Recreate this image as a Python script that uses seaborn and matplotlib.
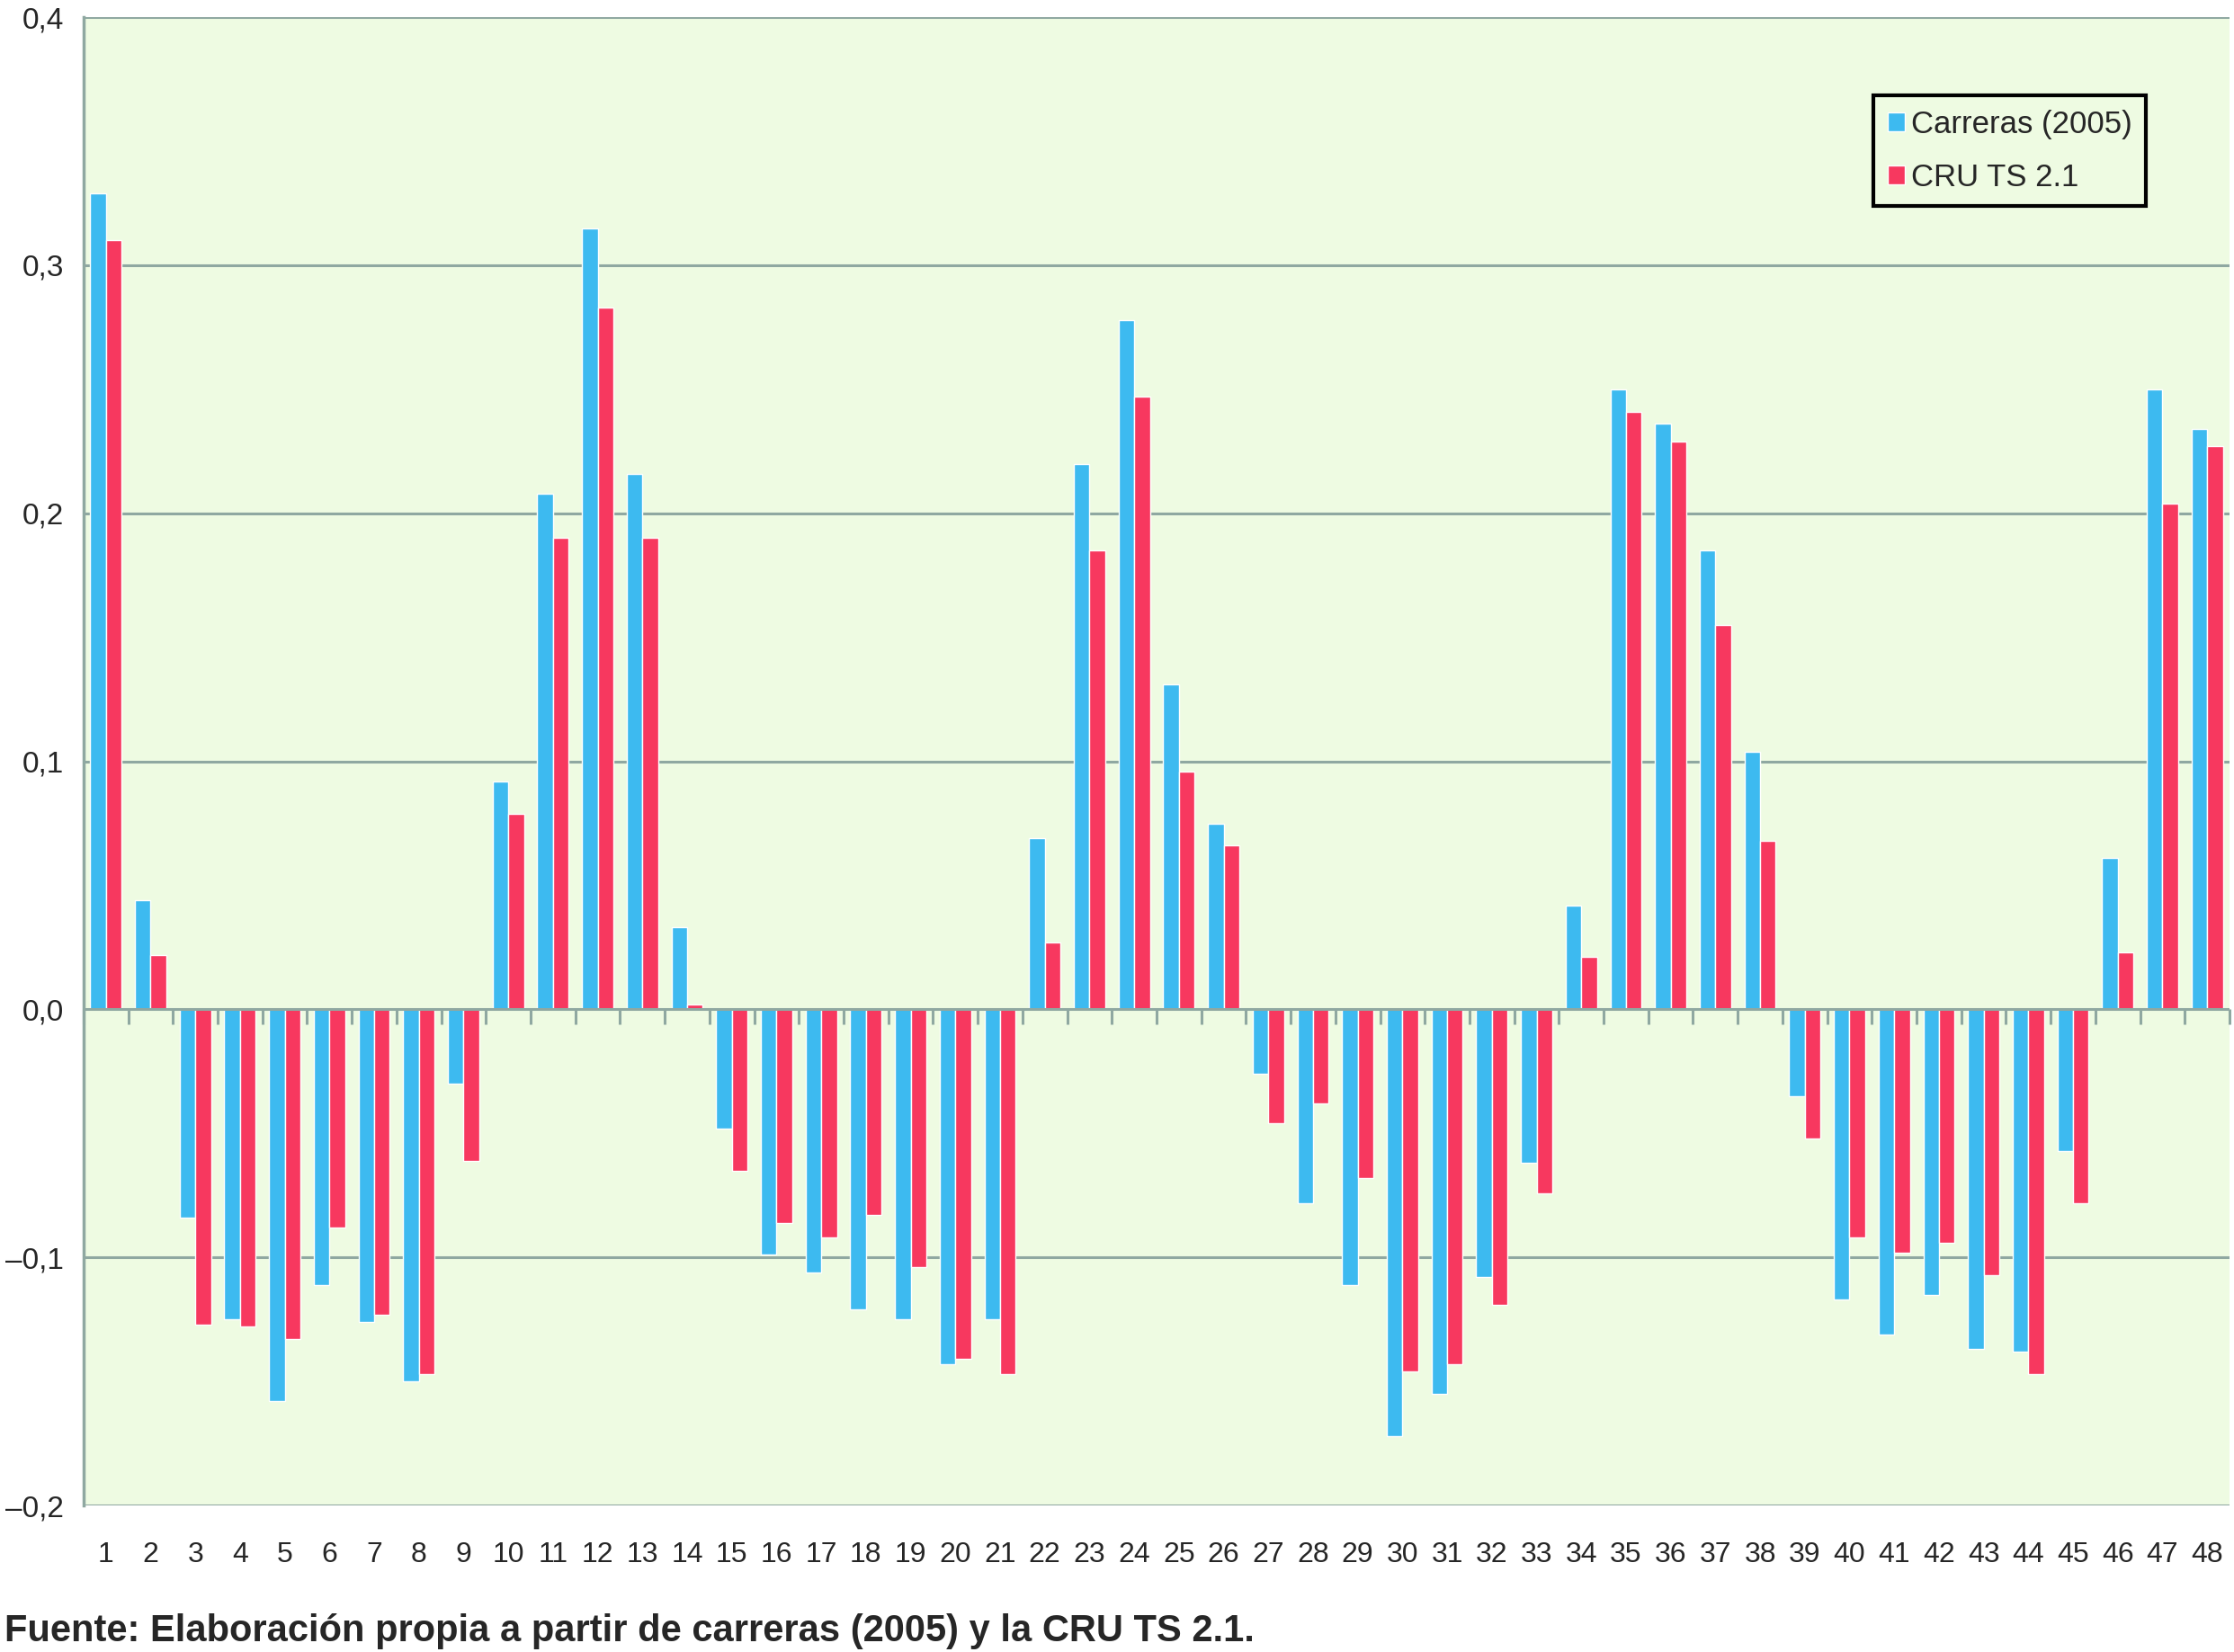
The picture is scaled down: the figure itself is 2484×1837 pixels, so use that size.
import numpy as np
import pandas as pd
import matplotlib
matplotlib.use("Agg")
import matplotlib.pyplot as plt
import seaborn as sns

# Data
periods = list(range(1, 49))
carreras = [0.329, 0.044, -0.084, -0.125, -0.158, -0.111, -0.126, -0.150, -0.030, 0.092,
            0.208, 0.315, 0.216, 0.033, -0.048, -0.099, -0.106, -0.121, -0.125, -0.143,
            -0.125, 0.069, 0.220, 0.278, 0.131, 0.075, -0.026, -0.078, -0.111, -0.172,
            -0.155, -0.108, -0.062, 0.042, 0.250, 0.236, 0.185, 0.104, -0.035, -0.117,
            -0.131, -0.115, -0.137, -0.138, -0.057, 0.061, 0.250, 0.234]
cru = [0.310, 0.022, -0.127, -0.128, -0.133, -0.088, -0.123, -0.147, -0.061, 0.079,
       0.190, 0.283, 0.190, 0.002, -0.065, -0.086, -0.092, -0.083, -0.104, -0.141,
       -0.147, 0.027, 0.185, 0.247, 0.096, 0.066, -0.046, -0.038, -0.068, -0.146,
       -0.143, -0.119, -0.074, 0.021, 0.241, 0.229, 0.155, 0.068, -0.052, -0.092,
       -0.098, -0.094, -0.107, -0.147, -0.078, 0.023, 0.204, 0.227]
series_names = ["Carreras (2005)", "CRU TS 2.1"]
y_ticks = [-0.2, -0.1, 0.0, 0.1, 0.2, 0.3, 0.4]
y_labels = ["–0,2", "–0,1", "0,0", "0,1", "0,2", "0,3", "0,4"]
caption = "Fuente: Elaboración propia a partir de carreras (2005) y la CRU TS 2.1."

df = pd.DataFrame({
    "periodo": [str(p) for p in periods] * 2,
    "valor": carreras + cru,
    "serie": [series_names[0]] * len(periods) + [series_names[1]] * len(periods),
})

sns.set_style("white")
narrow = ["Liberation Sans Narrow", "Liberation Sans", "DejaVu Sans"]
plt.rcParams["font.family"] = ["Liberation Sans", "DejaVu Sans"]

bg = "#eefbe2"
grid_c = "#8fa8a1"
colors = ["#3dbaf0", "#f7385f"]

fig = plt.figure(figsize=(24.84, 18.37), dpi=100)
ax = fig.add_axes([0.0374, 0.0887, 0.9606, 0.9009])
ax.set_facecolor(bg)

sns.barplot(data=df, x="periodo", y="valor", hue="serie", palette=colors,
            width=0.70, gap=0, saturation=1, ax=ax, zorder=2)

ax.set_ylim(-0.2, 0.4)
ax.set_xlim(-0.5, len(periods) - 0.5)
ax.set_yticks(y_ticks)
ax.set_yticklabels(y_labels, fontsize=24, family=narrow)
ax.set_xlabel("")
ax.set_ylabel("")

for y in y_ticks:
    ax.axhline(y, color=grid_c, lw=2.2, zorder=3 if y == 0 else 1)

for s in ["top", "right", "bottom"]:
    ax.spines[s].set_visible(False)
ax.spines["left"].set_color(grid_c)
ax.spines["left"].set_linewidth(2.5)

ax.tick_params(axis="y", length=10, width=2.2, color=grid_c, pad=6)
ax.tick_params(axis="x", length=0, pad=29)
for lab in ax.get_xticklabels():
    lab.set_fontsize(23)
    lab.set_family(narrow)

# ticks between categories on the zero line
sec = ax.secondary_xaxis(1 / 3)
sec.set_xticks(np.arange(len(periods) + 1) - 0.5)
sec.tick_params(axis="x", direction="out", length=12, width=2.2, color=grid_c,
                labelbottom=False, labeltop=False, bottom=True, top=False)
sec.spines["bottom"].set_visible(False)
sec.spines["top"].set_visible(False)

leg = ax.legend(loc="upper left", bbox_to_anchor=(0.834, 0.9475), fontsize=25,
                frameon=True, fancybox=False, facecolor=bg, edgecolor="black",
                handlelength=0.55, handleheight=0.55, handletextpad=0.2,
                labelspacing=0.75, borderpad=0.45, borderaxespad=0)
leg.get_frame().set_linewidth(3)
leg.get_frame().set_alpha(1)

fig.text(0.002, 0.0125, caption, fontsize=30, fontweight="bold", family=narrow,
         va="center", ha="left")

fig.savefig("out.png", dpi=100, facecolor="white")
